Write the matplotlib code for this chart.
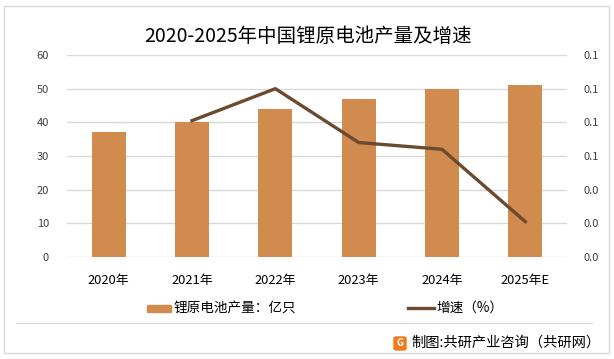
import matplotlib
matplotlib.use("Agg")
import matplotlib.pyplot as plt
from matplotlib.patches import Rectangle, FancyBboxPatch
from matplotlib.lines import Line2D
from matplotlib.ticker import FormatStrFormatter

plt.rcParams["font.family"] = ["Noto Sans CJK SC", "DejaVu Sans"]

years = ["2020年", "2021年", "2022年", "2023年", "2024年", "2025年E"]
output = [37, 40, 44, 47, 50, 51]
growth_years = ["2021年", "2022年", "2023年", "2024年", "2025年E"]
growth = [0.081, 0.100, 0.068, 0.064, 0.021]

bar_color = "#D28B4E"
line_color = "#6B4A2E"
grid_color = "#D9D9D9"
text_color = "#404040"

W, H = 614, 359
fig = plt.figure(figsize=(W / 100, H / 100), dpi=100)

ax = fig.add_axes([67 / W, 1 - 257 / H, 500 / W, 202 / H])
x = list(range(len(years)))
ax.bar(x, output, width=0.41, color=bar_color, zorder=2)
ax.set_xlim(-0.5, len(years) - 0.5)
ax.set_ylim(0, 60)
ax.set_yticks(range(0, 61, 10))
ax.set_xticks(x)
ax.set_xticklabels(years, fontsize=9.3, color="black")
ax.tick_params(axis="y", labelsize=8, colors=text_color, length=0, pad=13)
ax.tick_params(axis="x", length=0, pad=12)
ax.yaxis.grid(True, color=grid_color, linewidth=1, zorder=0)
for s in ax.spines.values():
    s.set_visible(False)

ax2 = ax.twinx()
gx = [years.index(y) for y in growth_years]
ax2.plot(gx, growth, color=line_color, linewidth=2.4, zorder=3)
ax2.set_ylim(0, 0.12)
ax2.set_yticks([0, 0.02, 0.04, 0.06, 0.08, 0.10, 0.12])
ax2.yaxis.set_major_formatter(FormatStrFormatter("%.1f"))
ax2.tick_params(axis="y", labelsize=8, colors=text_color, length=0, pad=12)
for s in ax2.spines.values():
    s.set_visible(False)

fig.text(308 / W, 1 - 36 / H, "2020-2025年中国锂原电池产量及增速", ha="center",
         va="center", fontsize=14, color="black")

# legend
fig.patches.append(Rectangle((147 / W, 1 - 312 / H), 24 / W, 7 / H,
                             transform=fig.transFigure, color=bar_color))
fig.text(174 / W, 1 - 308 / H, "锂原电池产量：亿只", ha="left", va="center",
         fontsize=9.8, color="black")
fig.lines.append(Line2D([408 / W, 434 / W], [1 - 308 / H, 1 - 308 / H],
                        transform=fig.transFigure, color=line_color, linewidth=2.4))
fig.text(436 / W, 1 - 308 / H, "增速（%）", ha="left", va="center",
         fontsize=9.8, color="black")

# separator and frame
fig.lines.append(Line2D([16 / W, 592 / W], [1 - 323 / H, 1 - 323 / H],
                        transform=fig.transFigure, color=grid_color, linewidth=1))
fig.patches.append(Rectangle((4 / W, 1 - 353 / H), 605 / W, 347 / H,
                             transform=fig.transFigure, fill=False,
                             edgecolor="#D9D9D9", linewidth=1))

# source
fig.patches.append(FancyBboxPatch((394 / W, 1 - 350 / H), 12 / W, 13 / H,
                                  boxstyle="round,pad=0,rounding_size=0.004",
                                  transform=fig.transFigure, color="#F07A1E"))
fig.text(400 / W, 1 - 343.5 / H, "G", ha="center", va="center", fontsize=7,
         color="white", fontweight="bold")
fig.text(411 / W, 1 - 343 / H, "制图:共研产业咨询（共研网）", ha="left", va="center",
         fontsize=10.3, color="black")

fig.savefig("out.png", dpi=100)
